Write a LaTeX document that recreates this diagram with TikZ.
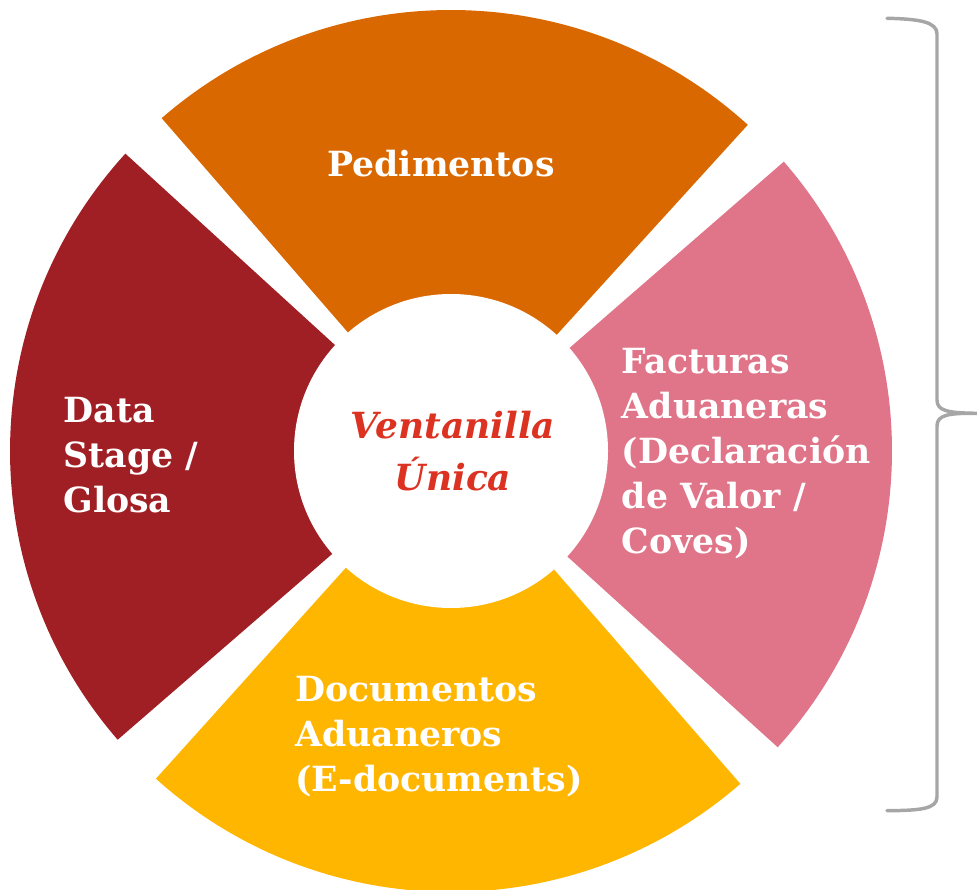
\documentclass[tikz,border=0pt]{standalone}
\usepackage{fontspec}
\newfontfamily\segfont{DejaVu Serif}
\definecolor{cOrange}{RGB}{218,104,0}
\definecolor{cRed}{RGB}{160,31,36}
\definecolor{cPink}{RGB}{224,116,136}
\definecolor{cGold}{RGB}{255,182,0}
\definecolor{cText}{RGB}{220,50,34}
\definecolor{cBrace}{RGB}{166,166,166}
\tikzset{
  seglabel/.style={anchor=north west, inner sep=0pt, align=left, text=white,
    font={\segfont\bfseries\fontsize{26}{33.75}\selectfont}},
  hubtext/.style={anchor=north, inner sep=0pt, align=center, text=cText,
    font={\segfont\bfseries\itshape\fontsize{27}{39.5}\selectfont}},
  bracestyle/.style={draw=cBrace, line width=2.6pt, line cap=round, line join=round}
}
\begin{document}
\begin{tikzpicture}[x=0.75pt,y=0.75pt]
\useasboundingbox (0,0) rectangle (977,889);
\coordinate (C) at (451,438);
% sectors
\fill[cOrange] (C) -- ++(47.7:441) arc[start angle=47.7,end angle=131,radius=441] -- cycle;
\fill[cRed] (C) -- ++(137.6:441) arc[start angle=137.6,end angle=220.9,radius=441] -- cycle;
\fill[cGold] (C) -- ++(228:441) arc[start angle=228,end angle=311,radius=441] -- cycle;
\fill[cPink] (C) -- ++(-42.2:441) arc[start angle=-42.2,end angle=41,radius=441] -- cycle;
% hub
\node[circle, fill=white, inner sep=0pt, minimum size=235.5pt] (hub) at (C) {};
\node[hubtext] (hubl) at (453,480.3) {\rule{0pt}{22pt}Ventanilla\\Única};
% labels
\node[seglabel, anchor=base] (ped) at (441,712.3) {Pedimentos};
\node[seglabel] (data) at (63.3,493.4) {\rule{0pt}{20pt}Data\\Stage /\\Glosa};
\node[seglabel] (fact) at (621.7,542.4) {\rule{0pt}{20pt}Facturas\\Aduaneras\\(Declaración\\de Valor /\\Coves)};
\node[seglabel] (docs) at (295,214.7) {\rule{0pt}{20pt}Documentos\\Aduaneros\\(E-documents)};
% brace
\coordinate (bt) at (887,870.7);
\coordinate (btc) at (937,855);
\coordinate (bmu) at (937,489);
\coordinate (tip) at (977,475.7);
\coordinate (bml) at (937,463);
\coordinate (bbc) at (937,92);
\coordinate (bb) at (887,78.3);
\draw[bracestyle] (bt) .. controls (920,870) and (937,867) .. (btc) -- (bmu)
  .. controls (937,478) and (948,476) .. (tip)
  .. controls (948,476) and (937,474) .. (bml) -- (bbc)
  .. controls (937,80) and (920,78.5) .. (bb);
\end{tikzpicture}
\end{document}
